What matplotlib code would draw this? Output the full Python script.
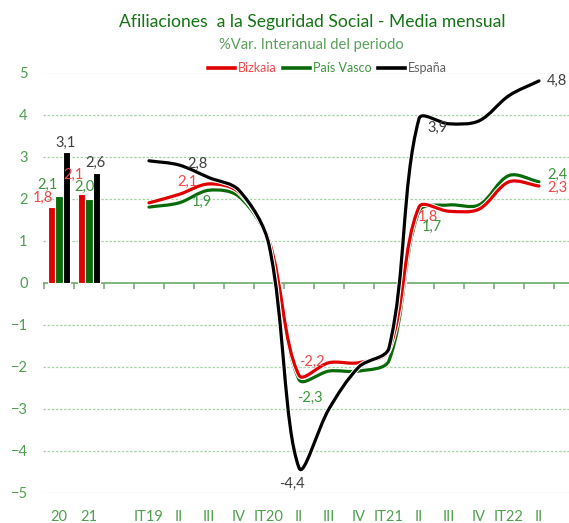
import numpy as np
import matplotlib
matplotlib.use("Agg")
import matplotlib.pyplot as plt
from matplotlib.path import Path
from matplotlib.patches import PathPatch
from matplotlib.lines import Line2D
import matplotlib.patheffects as pe

plt.rcParams['font.family'] = ['Lato', 'DejaVu Sans']

# Datos
anios = ["20", "21"]
bar_bizkaia = [1.8, 2.1]
bar_pv = [2.06, 2.0]
bar_espana = [3.1, 2.6]

trimestres = ["IT19", "II", "III", "IV", "IT20", "II", "III", "IV",
              "IT21", "II", "III", "IV", "IT22", "II"]
bizkaia = [1.9, 2.1, 2.35, 2.15, 1.0, -2.2, -1.9, -1.9, -1.6, 1.8, 1.7, 1.75, 2.4, 2.3]
pais_vasco = [1.8, 1.9, 2.2, 2.05, 0.95, -2.3, -2.1, -2.1, -1.85, 1.7, 1.85, 1.85, 2.55, 2.4]
espana = [2.9, 2.8, 2.5, 2.2, 0.9, -4.4, -3.0, -2.0, -1.55, 3.9, 3.78, 3.85, 4.45, 4.8]

# Colores
ROJO, VERDE, NEGRO = "#e00000", "#0a6a0a", "#000000"
TXT_ROJO, TXT_VERDE, TXT_NEGRO = "#f04848", "#3f943f", "#404040"
EJE = "#4f9f4f"

# escala aproximada en pixeles de cada unidad (para el suavizado)
SX, SY = 30.0, 42.0


def curva_suave(xs, ys):
    # linea suavizada tipo Excel (bezier, tangentes ponderadas por longitud de tramo)
    p = np.column_stack([np.asarray(xs, float) * SX, np.asarray(ys, float) * SY])
    n = len(p)
    verts, codes = [p[0]], [Path.MOVETO]
    for i in range(n - 1):
        p0 = p[i - 1] if i > 0 else p[i]
        p1, p2 = p[i], p[i + 1]
        p3 = p[i + 2] if i + 2 < n else p[i + 1]
        d01 = np.hypot(*(p1 - p0))
        d12 = np.hypot(*(p2 - p1))
        d23 = np.hypot(*(p3 - p2))
        f1 = d12 / (d01 + d12) / 3 if d01 + d12 > 0 else 0
        f2 = d12 / (d12 + d23) / 3 if d12 + d23 > 0 else 0
        verts += [p1 + (p2 - p0) * f1, p2 - (p3 - p1) * f2, p2]
        codes += [Path.CURVE4] * 3
    verts = np.array(verts) / [SX, SY]
    return Path(verts, codes)


fig = plt.figure(figsize=(5.69, 5.23), dpi=100)
ax = fig.add_axes([43 / 569, 30 / 523, 526 / 569, 420.5 / 523])
ax.set_xlim(-0.533, 17.0)
ax.set_ylim(-5, 5)

# rejilla
for v in range(-5, 6):
    if v != 0:
        ax.axhline(v, color="#a9d3a9", lw=0.9, ls=(0, (2, 1.3)), zorder=0)
ax.axhline(0, color="#6aaa6a", lw=1.2, zorder=1)
marcas = np.arange(-0.5, 17, 1.0)
ax.plot(marcas, np.zeros(len(marcas)), ls="none", marker=3, ms=4, mew=1.1, color="#6aaa6a", clip_on=False)

# barras
xb = np.arange(len(anios))
series_bar = [(bar_bizkaia, ROJO, TXT_ROJO, -0.25), (bar_pv, VERDE, TXT_VERDE, 0.0),
              (bar_espana, NEGRO, TXT_NEGRO, 0.25)]
bar_off = [[(-0.3, 0.22), (-0.27, 0.47)], [(-0.4, 0.26), (-0.16, 0.28)], [(-0.04, 0.23), (-0.05, 0.25)]]
for k, (vals, c, tc, dx) in enumerate(series_bar):
    ax.bar(xb + dx, vals, width=0.24, color=c, edgecolor="white", linewidth=0.8, zorder=2)
    for i, v in enumerate(vals):
        ox, oy = bar_off[k][i]
        ax.text(xb[i] + dx + ox, v + oy, f"{v:.1f}".replace(".", ","), color=tc,
                fontsize=10.5, ha="center", va="center", zorder=5)

# lineas
xq = np.arange(len(trimestres)) + 3
series_lin = [(pais_vasco, VERDE, TXT_VERDE), (bizkaia, ROJO, TXT_ROJO), (espana, NEGRO, TXT_NEGRO)]
for vals, c, tc in series_lin:
    patch = PathPatch(curva_suave(xq, vals), fill=False, edgecolor=c, lw=2.3, zorder=3,
                      capstyle="round", joinstyle="round")
    patch.set_path_effects([pe.Stroke(linewidth=3.8, foreground="white"), pe.Normal()])
    ax.add_patch(patch)

# etiquetas de las lineas (trimestres II)
idx_et = [1, 5, 9, 13]
off_lin = {
    "bizkaia": [(0.27, 0.30), (0.43, 0.32), (0.3, -0.24), (0.6, -0.05)],
    "pv": [(0.77, 0.02), (0.37, -0.44), (0.43, -0.37), (0.6, 0.16)],
    "espana": [(0.63, 0.02), (-0.23, -0.38), (0.6, -0.22), (0.6, 0.0)],
}
for nombre, vals, tc in [("bizkaia", bizkaia, TXT_ROJO), ("pv", pais_vasco, TXT_VERDE),
                         ("espana", espana, TXT_NEGRO)]:
    for j, i in enumerate(idx_et):
        ox, oy = off_lin[nombre][j]
        ax.text(xq[i] + ox, vals[i] + oy, f"{vals[i]:.1f}".replace(".", ","), color=tc,
                fontsize=10.5, ha="center", va="center", zorder=5)

# ejes
ax.set_xticks(list(xb) + list(xq))
ax.set_xticklabels(anios + trimestres)
ax.set_yticks(range(-5, 6))
ax.tick_params(axis="x", length=0, pad=12, labelsize=10.5, labelcolor=EJE)
ax.tick_params(axis="y", length=0, pad=11, labelsize=10.5, labelcolor=EJE)
for s in ax.spines.values():
    s.set_visible(False)

# titulos y leyenda
fig.text(0.548, 1 - 22 / 523, "Afiliaciones  a la Seguridad Social - Media mensual", ha="center",
         va="center", fontsize=12.6, color="#147314")
fig.text(0.548, 1 - 45 / 523, "%Var. Interanual del periodo", ha="center", va="center",
         fontsize=10.6, color="#5a9f5a")
handles = [Line2D([], [], color=ROJO, lw=2.6), Line2D([], [], color=VERDE, lw=2.6),
           Line2D([], [], color=NEGRO, lw=2.6)]
leg = fig.legend(handles, ["Bizkaia", "País Vasco", "España"], loc="center",
                 bbox_to_anchor=(0.575, 1 - 68 / 523), ncol=3, frameon=False, fontsize=9,
                 handlelength=2.2, handletextpad=0.2, columnspacing=0.5)
for t, c in zip(leg.get_texts(), [TXT_ROJO, TXT_VERDE, "#606060"]):
    t.set_color(c)

fig.savefig("out.png", dpi=100)
